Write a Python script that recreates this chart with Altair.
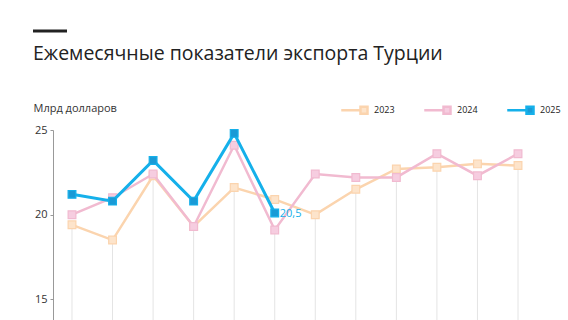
import altair as alt
import pandas as pd

months = ["Янв", "Фев", "Мар", "Апр", "Май", "Июн", "Июл", "Авг", "Сен", "Окт", "Ноя", "Дек"]
years = ["2023", "2024", "2025"]
v2023 = [19.4, 18.5, 22.3, 19.3, 21.6, 20.9, 20.0, 21.5, 22.7, 22.8, 23.0, 22.9]
v2024 = [20.0, 21.0, 22.4, 19.3, 24.1, 19.1, 22.4, 22.2, 22.2, 23.6, 22.3, 23.6]
v2025 = [21.2, 20.8, 23.2, 20.8, 24.8, 20.1]
label_month = "Июн"
label_year = "2025"
label_text = "20,5"

line_colors = ["#fbd4ae", "#f1bad0", "#15b0ea"]
fill_colors = ["#fde4cb", "#f6cde0", "#1a9ad6"]

rows = []
for y, vals in zip(years, [v2023, v2024, v2025]):
    for m, v in zip(months, vals):
        rows.append({"month": m, "year": y, "value": v})
df = pd.DataFrame(rows)
df["label"] = ""
df.loc[(df.month == label_month) & (df.year == label_year), "label"] = label_text

FONT = "Open Sans"
H = 190
W = 484

xenc = alt.X("month:N", sort=months, scale=alt.Scale(type="point", padding=0.4686), axis=None)
yscale = alt.Scale(domain=[13.78, 25], nice=False, zero=False)
stroke_scale = alt.Scale(domain=years, range=line_colors)
fill_scale = alt.Scale(domain=years, range=fill_colors)

base = alt.Chart(df)

drops = base.transform_aggregate(
    minv="min(value)", groupby=["month"]
).mark_rule(color="#e4e4e4", strokeWidth=1).encode(
    x=xenc,
    y=alt.Y("minv:Q", scale=yscale,
            axis=alt.Axis(values=[15, 20, 25], title="Млрд долларов", titleAngle=0,
                          titleAlign="left", titleBaseline="alphabetic", titleX=-20, titleY=-19,
                          titleFont=FONT, titleFontSize=11, titleFontWeight="normal", titleColor="#333",
                          labelFont=FONT, labelFontSize=11, labelColor="#333", labelPadding=3,
                          tickSize=3, tickColor="#999", domainColor="#999", grid=False)),
    y2=alt.value(H),
)

legend = alt.Legend(
    title=None, orient="none", direction="horizontal", legendX=306, legendY=-25,
    symbolType="M-6.5,0H-1M-1,-1H1V1H-1Z", symbolSize=49, symbolStrokeWidth=2.5,
    labelFont=FONT, labelFontSize=9, labelColor="#222", labelOffset=5, columnPadding=24,
    symbolOpacity=1,
)

layers = [drops]
for y in years:
    sub = base.transform_filter(alt.datum.year == y)
    layers.append(sub.mark_line(strokeWidth=3 if y == "2025" else 2.5).encode(
        x=xenc, y=alt.Y("value:Q", scale=yscale),
        stroke=alt.Stroke("year:N", scale=stroke_scale, legend=legend),
    ))
    layers.append(sub.mark_point(shape="square", filled=True, size=60, opacity=1,
                                 strokeWidth=1.2).encode(
        x=xenc, y=alt.Y("value:Q", scale=yscale),
        fill=alt.Fill("year:N", scale=fill_scale, legend=legend),
        stroke=alt.Stroke("year:N", scale=stroke_scale, legend=legend),
    ))

labels = base.transform_filter(alt.datum.label != "").mark_text(
    align="left", baseline="middle", dx=5, dy=1, font=FONT, fontSize=11, color="#15b0ea"
).encode(x=xenc, y=alt.Y("value:Q", scale=yscale), text="label:N")
layers.append(labels)

bar = alt.Chart(pd.DataFrame({"a": [0]})).mark_rule(color="#222", strokeWidth=3).encode(
    x=alt.value(-20), x2=alt.value(14), y=alt.value(-99)
)
layers.append(bar)

chart = alt.layer(*layers).properties(
    width=W, height=H,
    title=alt.Title("Ежемесячные показатели экспорта Турции", anchor="start", frame="group",
                    dx=-20, offset=-50, baseline="alphabetic", font=FONT, fontSize=19.5,
                    fontWeight="normal", color="#222"),
    autosize=alt.AutoSizeParams(type="none"),
    padding={"left": 53, "top": 130, "right": 31, "bottom": 0},
).configure_view(stroke=None).resolve_scale(stroke="shared", fill="shared")

chart.save("out.html", embed_options={"renderer": "svg", "actions": False})
